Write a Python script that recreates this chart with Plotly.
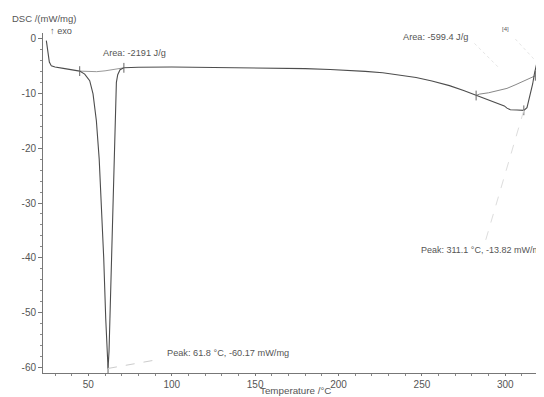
import plotly.graph_objects as go

# ---- data ----
temperature = [24.8, 25.3, 25.9, 26.6, 27.8, 30, 35, 40, 44.8, 47.8, 50.8, 52.8, 54.8, 56.5, 58,
               59.2, 60.4, 61.2, 61.8, 62.4, 63.2, 64.2, 65.0, 65.8, 66.3, 66.8, 67.6, 69, 71.3,
               80, 100, 120, 150, 180, 195, 206.7, 216, 226.5, 236, 246.5, 256, 266.5, 275, 282.5,
               288, 292.4, 297, 299.4, 301, 303, 307, 311.1, 313, 314.4, 315.5, 316.4, 317.4,
               318.8, 320]
dsc = [-0.4, -1.5, -3.0, -4.3, -5.0, -5.2, -5.45, -5.65, -5.95, -6.5, -7.7, -10.1, -15, -22, -31,
       -40, -51, -57, -60.17, -57, -48, -35, -24, -15, -11, -8.0, -6.6, -5.7, -5.35,
       -5.25, -5.2, -5.25, -5.35, -5.5, -5.65, -5.82, -6.0, -6.25, -6.6, -7.1, -7.75, -8.6, -9.5,
       -10.4, -11.0, -11.6, -12.1, -12.3, -12.7, -13.0, -13.05, -13.1, -12.6, -10.9, -9.5, -8.3,
       -6.5, -4.6, -3.6]

baseline1_t = [44.8, 50, 55, 60, 65, 71.3]
baseline1_v = [-5.95, -6.02, -6.05, -5.9, -5.68, -5.35]
baseline2_t = [282.5, 284.4, 290, 296.4, 301, 306.4, 311, 315, 318]
baseline2_v = [-10.4, -10.15, -9.9, -9.5, -9.1, -8.4, -7.8, -7.2, -6.8]

peak_t = [61.8, 311.1]
peak_v = [-60.17, -13.1]
peak_labels = ["Peak: 61.8 °C, -60.17 mW/mg", "Peak: 311.1 °C, -13.82 mW/mg"]
area_labels = ["Area: -2191 J/g", "Area: -599.4 J/g"]

x_ticks = [50, 100, 150, 200, 250, 300]
x_ticktext = ["50", "100", "150", "200", "250", "300"]
y_ticks = [0, -10, -20, -30, -40, -50, -60]
y_ticktext = ["0", "-10", "-20", "-30", "-40", "-50", "-60"]

FONT = "Liberation Sans, Arial, sans-serif"
TXT = "#555555"

fig = go.Figure()
fig.add_trace(go.Scatter(x=baseline1_t, y=baseline1_v, mode="lines",
                         line=dict(color="#999999", width=1), hoverinfo="skip"))
fig.add_trace(go.Scatter(x=baseline2_t, y=baseline2_v, mode="lines",
                         line=dict(color="#888888", width=1), hoverinfo="skip"))
fig.add_trace(go.Scatter(x=temperature, y=dsc, mode="lines",
                         line=dict(color="#4d4d4d", width=1.1)))
# integration limit / peak tick marks
mark_t = [baseline1_t[0], baseline1_t[-1], baseline2_t[0], baseline2_t[-1]] + peak_t
mark_v = [baseline1_v[0], baseline1_v[-1], baseline2_v[0], baseline2_v[-1]] + peak_v
fig.add_trace(go.Scatter(x=mark_t, y=mark_v, mode="markers",
                         marker=dict(symbol="line-ns", size=7,
                                     line=dict(color="#666666", width=1))))

# leader lines (dashed, light)
fig.add_shape(type="line", x0=peak_t[0], y0=peak_v[0], x1=92.7, y1=-58.5,
              line=dict(color="#cccccc", width=1, dash="dash"))
fig.add_shape(type="line", x0=peak_t[1], y0=peak_v[1], x1=288.2, y1=-36.8,
              line=dict(color="#dddddd", width=1, dash="dash"))
fig.add_shape(type="line", x0=281.5, y0=-0.9, x1=296, y1=-5.3,
              line=dict(color="#e6e6e6", width=1, dash="dot"))
fig.add_shape(type="line", x0=306, y0=-0.1, x1=317, y1=-3.7,
              line=dict(color="#e6e6e6", width=1, dash="dot"))

ann = []
def txt(text, x, y, xref="x", yref="y", xanchor="left", size=9.2):
    ann.append(dict(text=text, x=x, y=y, xref=xref, yref=yref, xanchor=xanchor,
                    yanchor="middle", showarrow=False,
                    font=dict(family=FONT, size=size, color=TXT)))

txt(area_labels[0], 57.4, -2.59)
txt(area_labels[1], 237.6, 0.33)
txt(peak_labels[0], 95.7, -57.4)
txt(peak_labels[1], 248.1, -38.65, size=9.0)
txt("[4]", 0.916, 1.012, "paper", "paper", size=6)
txt("DSC /(mW/mg)", -0.066, 1.044, "paper", "paper", size=9.5)
txt("↑ exo", 0.01, 1.006, "paper", "paper", size=9.2)
txt("Temperature /°C", 0.507, -0.05, "paper", "paper", xanchor="center", size=9.8)

# page body has an 8px margin: shrink the figure so the plot lands where the reference has it
fig.update_layout(
    width=536, height=389,
    margin=dict(l=35, r=2, t=25, b=24),
    paper_bgcolor="white", plot_bgcolor="white",
    showlegend=False,
    annotations=ann,
    font=dict(family=FONT, size=9.5, color=TXT),
)
fig.update_xaxes(range=[22.8, 322], showgrid=False, zeroline=False,
                 showline=True, linecolor="#777777", linewidth=1,
                 tickmode="array", tickvals=x_ticks, ticktext=x_ticktext,
                 ticks="outside", ticklen=2,
                 tickcolor="#777777", tickfont=dict(size=10, color=TXT, family=FONT),
                 minor=dict(dtick=10, tick0=0, ticks="outside", ticklen=2, tickcolor="#888888"))
fig.update_yaxes(range=[-61, 1], showgrid=False, zeroline=False,
                 showline=True, linecolor="#777777", linewidth=1,
                 tickmode="array", tickvals=y_ticks, ticktext=y_ticktext,
                 ticks="outside", ticklen=4,
                 tickcolor="#777777", tickfont=dict(size=10, color=TXT, family=FONT),
                 minor=dict(dtick=2, tick0=0, ticks="outside", ticklen=2, tickcolor="#888888"))

fig.write_html("out.html")
